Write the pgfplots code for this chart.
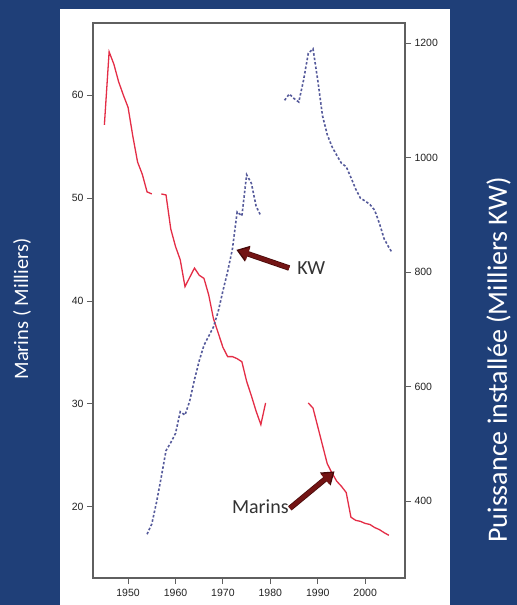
\documentclass[border=0pt]{standalone}
\usepackage{fontspec}
\setmainfont{Carlito}
\newfontfamily\arialf{Liberation Sans}
\usepackage{pgfplots}
\pgfplotsset{compat=1.18}
\usetikzlibrary{arrows.meta}
\definecolor{bgblue}{RGB}{31,63,120}
\definecolor{axisgray}{RGB}{95,95,95}
\definecolor{ticktext}{RGB}{35,35,35}
\definecolor{marinsred}{RGB}{228,45,70}
\definecolor{kwblue}{RGB}{85,90,155}
\definecolor{arrowred}{RGB}{115,20,20}
\definecolor{arrowdark}{RGB}{70,10,10}

\pgfplotstableread{
year val
1945 57.1
1946 64.2
1947 63.0
1948 61.3
1949 60.0
1950 58.8
1951 56.0
1952 53.5
1953 52.3
1954 50.6
1955 50.4
}\marinsA
\pgfplotstableread{
year val
1957 50.4
1958 50.3
1959 47.0
1960 45.3
1961 44.0
1962 41.4
1963 42.3
1964 43.2
1965 42.5
1966 42.2
1967 40.6
1968 38.3
1969 36.9
1970 35.5
1971 34.6
1972 34.6
1973 34.4
1974 34.1
1975 32.2
1976 30.8
1977 29.3
1978 28.0
1979 30.1
}\marinsB
\pgfplotstableread{
year val
1988 30.1
1989 29.6
1990 27.8
1991 26.0
1992 24.2
1993 23.3
1994 22.5
1995 22.0
1996 21.4
1997 19.0
1998 18.7
1999 18.6
2000 18.4
2001 18.3
2002 18.0
2003 17.8
2004 17.5
2005 17.25
}\marinsC
\pgfplotstableread{
year val
1954 342
1955 360
1956 398
1957 442
1958 488
1959 502
1960 518
1961 556
1962 550
1963 575
1964 612
1965 645
1966 672
1967 688
1968 704
1969 731
1970 767
1971 801
1972 840
1973 905
1974 898
1975 970
1976 955
1977 915
1978 898
}\kwA
\pgfplotstableread{
year val
1983 1100
1984 1111
1985 1103
1986 1097
1987 1135
1988 1182
1989 1190
1990 1135
1991 1073
1992 1040
1993 1019
1994 1004
1995 990
1996 984
1997 965
1998 945
1999 929
2000 924
2001 918
2002 908
2003 885
2004 858
2005 843
2005.6 835
}\kwB

\begin{document}
\begin{tikzpicture}
\useasboundingbox (0,0) rectangle (517bp,605bp);
\fill[bgblue] (0,0) rectangle (517bp,605bp);
\fill[white] (60bp,0) rectangle (450bp,596bp);
\begin{axis}[
  at={(93bp,27bp)}, anchor=south west,
  scale only axis, width=312bp, height=555bp,
  xmin=1942.6, xmax=2008.4, ymin=13.1, ymax=67.0,
  xtick={1950,1960,1970,1980,1990,2000},
  ytick={20,30,40,50,60},
  xtick pos=bottom, ytick pos=left,
  tick align=outside, major tick length=6bp,
  axis line style={draw=axisgray, line width=1.1bp},
  tick style={draw=axisgray, line width=1bp},
  /pgf/number format/1000 sep={},
  /pgf/number format/assume math mode=true,
  tick label style={font=\arialf\fontsize{10.5bp}{12bp}\selectfont, text=ticktext},
  xticklabel style={yshift=-2bp},
  ylabel={Marins ( Milliers)},
  every axis y label/.style={at={(axis description cs:-0.2276,0.4847)}, rotate=90, anchor=center,
     font=\fontsize{20.5bp}{24bp}\selectfont, text=white},
  clip=false,
]
\addplot[marinsred, line width=1.3bp, no markers] table[x=year,y=val] {\marinsA};
\addplot[marinsred, line width=1.3bp, no markers] table[x=year,y=val] {\marinsB};
\addplot[marinsred, line width=1.3bp, no markers] table[x=year,y=val] {\marinsC};
\end{axis}
\begin{axis}[
  at={(93bp,27bp)}, anchor=south west,
  scale only axis, width=312bp, height=555bp,
  xmin=1942.6, xmax=2008.4, ymin=265.5, ymax=1235,
  hide x axis,
  axis y line*=right,
  ytick={400,600,800,1000,1200},
  tick align=outside, major tick length=6bp,
  axis line style={draw=axisgray, line width=1.1bp},
  tick style={draw=axisgray, line width=1bp},
  /pgf/number format/1000 sep={},
  /pgf/number format/assume math mode=true,
  tick label style={font=\arialf\fontsize{10.5bp}{12bp}\selectfont, text=ticktext},
  ylabel={Puissance installée (Milliers KW)},
  every axis y label/.style={at={(axis description cs:1.2997,0.3928)}, rotate=90, anchor=center,
     font=\fontsize{28bp}{30bp}\selectfont, text=white, inner sep=0pt},
  clip=false,
]
\addplot[kwblue, line width=1.6bp, dash pattern=on 2.5bp off 2bp, no markers] table[x=year,y=val] {\kwA};
\addplot[kwblue, line width=1.6bp, dash pattern=on 2.5bp off 2bp, no markers] table[x=year,y=val] {\kwB};
\draw[arrowdark, line width=5.5bp, -{Triangle[length=12bp,width=16bp]}, shorten >=-0.5bp] (axis cs:1983.97,807) -- (axis cs:1972.93,838.4);
\draw[arrowred, line width=4bp, -{Triangle[length=10bp,width=13bp]}] (axis cs:1983.97,807) -- (axis cs:1973.3,837.4);
\draw[arrowdark, line width=5.5bp, -{Triangle[length=12bp,width=16bp]}, shorten >=-0.5bp] (axis cs:1984.11,387.2) -- (axis cs:1993.46,451.2);
\draw[arrowred, line width=4bp, -{Triangle[length=10bp,width=13bp]}] (axis cs:1984.11,387.2) -- (axis cs:1993.15,449.2);
\node[anchor=west, font=\fontsize{20bp}{24bp}\selectfont, text=black!80, inner sep=0pt] at (axis cs:1985.65,807) {KW};
\node[anchor=east, font=\fontsize{20bp}{24bp}\selectfont, text=black!80, inner sep=0pt] at (axis cs:1983.9,389.5) {Marins};
\end{axis}
\end{tikzpicture}
\end{document}
